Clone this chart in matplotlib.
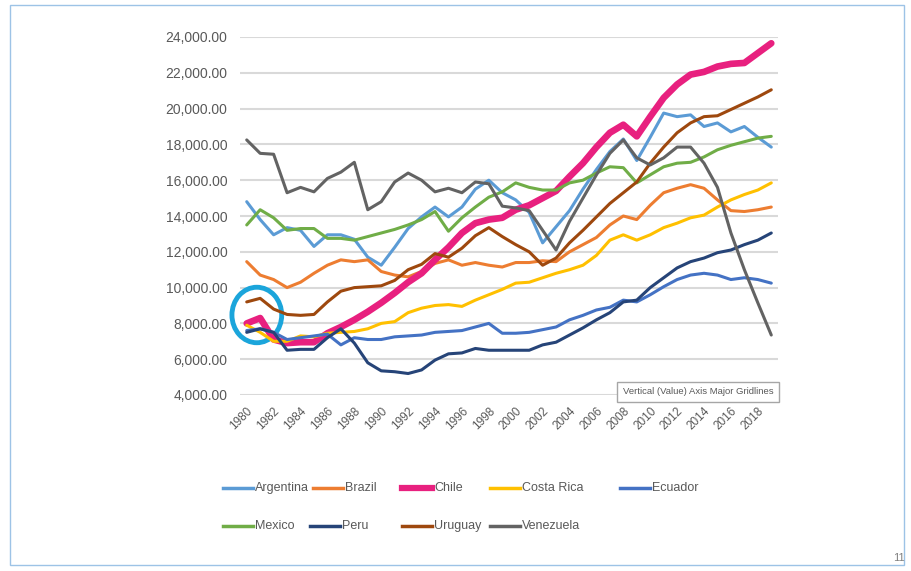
import matplotlib
matplotlib.use("Agg")
import matplotlib.pyplot as plt
from matplotlib.lines import Line2D
from matplotlib.patches import Ellipse, Rectangle
import numpy as np

plt.rcParams['font.family'] = ['Liberation Sans', 'DejaVu Sans']

years = list(range(1980, 2020))

argentina = [14800, 13800, 12950, 13350, 13200, 12300, 12950, 12950, 12700, 11700,
             11250, 12250, 13300, 13950, 14500, 13950, 14500, 15500, 16000, 15300,
             14900, 14200, 12500, 13400, 14300, 15500, 16600, 17600, 18300, 17100,
             18400, 19750, 19550, 19650, 19000, 19200, 18700, 19000, 18400, 17850]
brazil = [11450, 10700, 10450, 10000, 10300, 10800, 11250, 11550, 11450, 11550,
          10900, 10700, 10600, 10900, 11350, 11550, 11250, 11400, 11250, 11150,
          11400, 11400, 11500, 11450, 12000, 12400, 12800, 13500, 14000, 13800,
          14600, 15300, 15550, 15750, 15550, 14900, 14300, 14250, 14350, 14500]
chile = [8000, 8300, 7100, 6900, 6950, 6950, 7450, 7800, 8200, 8650,
         9150, 9700, 10300, 10800, 11550, 12250, 13050, 13600, 13800, 13900,
         14350, 14600, 15000, 15400, 16200, 16950, 17850, 18650, 19100, 18450,
         19550, 20600, 21350, 21900, 22050, 22350, 22500, 22550, 23100, 23650]
costa_rica = [7900, 7500, 7000, 7000, 7300, 7250, 7450, 7500, 7550, 7700,
              8000, 8100, 8600, 8850, 9000, 9050, 8950, 9300, 9600, 9900,
              10250, 10300, 10550, 10800, 11000, 11250, 11800, 12650, 12950, 12650,
              12950, 13350, 13600, 13900, 14050, 14500, 14900, 15200, 15450, 15850]
ecuador = [7600, 7700, 7500, 7100, 7200, 7300, 7400, 6800, 7200, 7100,
           7100, 7250, 7300, 7350, 7500, 7550, 7600, 7800, 8000, 7450,
           7450, 7500, 7650, 7800, 8200, 8450, 8750, 8900, 9300, 9200,
           9600, 10050, 10450, 10700, 10800, 10700, 10450, 10550, 10450, 10250]
mexico = [13500, 14350, 13900, 13200, 13300, 13300, 12750, 12750, 12650, 12850,
          13050, 13250, 13500, 13800, 14250, 13150, 13900, 14500, 15050, 15350,
          15850, 15600, 15450, 15450, 15850, 16000, 16400, 16750, 16700, 15850,
          16300, 16750, 16950, 17000, 17300, 17700, 17950, 18150, 18350, 18450]
peru = [7500, 7700, 7500, 6500, 6550, 6550, 7200, 7700, 6900, 5800,
        5350, 5300, 5200, 5400, 5950, 6300, 6350, 6600, 6500, 6500,
        6500, 6500, 6800, 6950, 7350, 7750, 8200, 8600, 9200, 9300,
        10000, 10550, 11100, 11450, 11650, 11950, 12100, 12400, 12650, 13050]
uruguay = [9200, 9400, 8800, 8500, 8450, 8500, 9200, 9800, 10000, 10050,
           10100, 10400, 11000, 11300, 11900, 11700, 12200, 12900, 13350, 12850,
           12400, 12000, 11250, 11650, 12500, 13200, 13950, 14700, 15300, 15900,
           16950, 17850, 18650, 19200, 19550, 19600, 19950, 20300, 20650, 21050]
venezuela = [18250, 17500, 17450, 15300, 15600, 15350, 16100, 16450, 17000, 14350,
             14800, 15900, 16400, 16000, 15350, 15550, 15300, 15900, 15800, 14550,
             14450, 14300, 13200, 12100, 13700, 15000, 16300, 17500, 18250, 17250,
             16850, 17250, 17850, 17850, 16950, 15600, 13050, 11000, 9150, 7350]

names = ['Argentina', 'Brazil', 'Chile', 'Costa Rica', 'Ecuador',
         'Mexico', 'Peru', 'Uruguay', 'Venezuela']
series = [argentina, brazil, chile, costa_rica, ecuador, mexico, peru, uruguay, venezuela]
colors = ['#5B9BD5', '#ED7D31', '#E8207F', '#FFC000', '#4472C4',
          '#70AD47', '#264478', '#9E480E', '#636363']
widths = [2.2, 2.2, 4.8, 2.2, 2.2, 2.2, 2.2, 2.2, 2.2]

fig = plt.figure(figsize=(9.12, 5.71), dpi=100)
ax = fig.add_axes([240/912, 1-395/571, 538/912, 358/571])

idx = np.arange(len(years))
for vals, c, w in zip(series, colors, widths):
    ax.plot(idx, vals, color=c, lw=w, solid_capstyle='round', solid_joinstyle='round')

ax.set_xlim(-0.5, len(years) - 0.5)
ax.set_ylim(4000, 24000)
ax.set_yticks(np.arange(4000, 24001, 2000))
ax.set_yticklabels([f"{v:,.2f}" for v in range(4000, 24001, 2000)], fontsize=10, color='#595959')
ax.set_xticks(idx[::2])
ax.set_xticklabels([str(y) for y in years[::2]], rotation=45, ha='right',
                   rotation_mode='anchor', fontsize=8.5, color='#595959')
ax.tick_params(length=0, pad=7)
ax.tick_params(axis='y', pad=9)
ax.grid(axis='y', color='#D9D9D9', lw=1.5)
ax.set_axisbelow(True)
for s in ax.spines.values():
    s.set_visible(False)

# highlight circle around the early Chile values
ax.add_patch(Ellipse((0.75, 8470), 3.7, 3100, fill=False, ec='#1BA5DB', lw=3.5, clip_on=False))

# tooltip box
fig.text(698/912, 1-392/571, 'Vertical (Value) Axis Major Gridlines', fontsize=6.8, color='#595959',
         ha='center', va='center',
         bbox=dict(boxstyle='square,pad=0.6', fc='white', ec='#A6A6A6', lw=1))

# legend, laid out like the original
legend_pos = [(223, 488), (313, 488), (402, 488), (490, 488), (620, 488),
              (223, 526), (310, 526), (402, 526), (490, 526)]
for (px, py), name, c, w in zip(legend_pos, names, colors, widths):
    fx, fy = px/912, 1-py/571
    fig.add_artist(Line2D([fx, fx + 30/912], [fy, fy], color=c, lw=4.5 if w > 3 else 2.5,
                          transform=fig.transFigure))
    fig.text(fx + 32/912, fy, name, fontsize=9, color='#595959', va='center', ha='left')

# slide frame and page number
fig.add_artist(Rectangle((10/912, 6/571), 894/912, 560/571, fill=False, ec='#9DC3E6', lw=1,
                         transform=fig.transFigure))
fig.text(893/912, 1-558/571, '11', fontsize=8, color='#7F7F7F', ha='left', va='center')

fig.savefig('out.png', dpi=100)
